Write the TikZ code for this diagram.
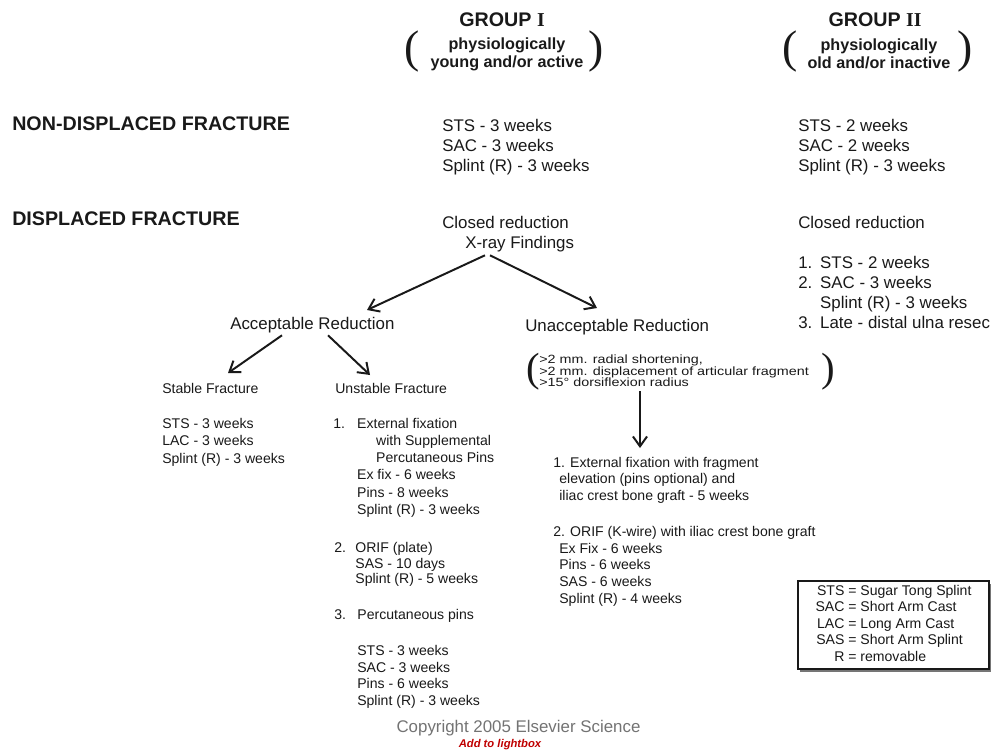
\documentclass[tikz,border=0pt]{standalone}
\usepackage{fontspec}
\setmainfont{Liberation Sans}
\newfontfamily\romanfont{Liberation Serif}
\newfontfamily\widesans[FakeStretch=1.2]{Liberation Sans}
\usepackage{xcolor}
\usepackage{tikz}
\usetikzlibrary{arrows.meta,shadows}
\definecolor{ink}{gray}{0.1}
\tikzset{
txt/.style = {anchor=north west, inner sep=0pt, align=left, text=ink, font=\fontsize{12}{14.2}\selectfont},
smalltxt/.style = {txt, font=\fontsize{10}{#1}\selectfont},
smalltxt/.default = 12.2pt, % line spacing of the lists
rowhead/.style = {txt, font=\fontsize{14}{16}\selectfont\bfseries},
grouphead/.style = {inner sep=0pt, text=ink, font=\fontsize{14}{16}\selectfont\bfseries},
groupsub/.style = {inner sep=0pt, align=center, text=ink, font=\fontsize{11.5}{12.8}\selectfont\bfseries},
paren/.style = {inner sep=0pt, text=ink, font=\fontsize{#1}{#1}\selectfont\romanfont},
paren/.default = 32.5,
arr/.style = {-{Straight Barb[length=7pt,width=10pt]}, line width=1.4pt, draw=ink},
keybox/.style = {draw=ink, line width=1pt, fill=white, minimum width=136pt, minimum height=62.6pt, inner sep=0pt, text=ink, font=\fontsize{10}{11.7}\selectfont, drop shadow={shadow xshift=1.5pt, shadow yshift=-2pt, fill=ink, opacity=0.6}},
}
\newcommand{\listnum}[2]{\makebox[#1][l]{#2}}

\begin{document}
\begin{tikzpicture}[x=0.025cm, y=-0.025cm]
  \useasboundingbox (0,0) rectangle (996,752);

  % Groups
    \node[grouphead] (grpOne) at (502,20) {GROUP {\romanfont I}};
    \node[grouphead] (grpTwo) at (875,20) {GROUP {\romanfont II}};
    \node[groupsub] (subOne) at (507,54) {physiologically\\young and/or active};
    \node[groupsub] (subTwo) at (879,54) {physiologically\\old and/or inactive};
    \node[paren] (subOneL) at (412,52) {(};
    \node[paren] (subOneR) at (596,52) {)};
    \node[paren] (subTwoL) at (790,52) {(};
    \node[paren] (subTwoR) at (965,52) {)};

  % Rows
    \node[rowhead] (nonDisp) at (12,116) {NON-DISPLACED FRACTURE};
    \node[rowhead] (disp) at (12,211) {DISPLACED FRACTURE};

  % Non-displaced
    \node[txt] (ndOne) at (442,119) {STS - 3 weeks\\SAC - 3 weeks\\Splint (R) - 3 weeks};
    \node[txt] (ndTwo) at (798,119) {STS - 2 weeks\\SAC - 2 weeks\\Splint (R) - 3 weeks};

  % Displaced, group II
    \node[txt] (closedTwo) at (798,216) {Closed reduction};
    \node[txt] (listTwo) at (798,256) {\listnum{15.6pt}{1.}STS - 2 weeks\\\listnum{15.6pt}{2.}SAC - 3 weeks\\\hspace*{15.6pt}Splint (R) - 3 weeks\\\listnum{15.6pt}{3.}Late - distal ulna resec};

  % Displaced, group I
    \node[txt] (closed) at (442,216) {Closed reduction};
    \node[txt] (xray) at (465,236) {X-ray Findings};
    \node[txt] (acc) at (230,317) {Acceptable Reduction};
    \node[txt] (unacc) at (525,319) {Unacceptable Reduction};

    \node[smalltxt] (stable) at (162,383) {Stable Fracture};
    \node[smalltxt=12.4pt] (stableList) at (162,418) {STS - 3 weeks\\LAC - 3 weeks\\Splint (R) - 3 weeks};

    \node[smalltxt] (unstable) at (335,383) {Unstable Fracture};
    \node[smalltxt] (unstOne) at (333,418) {\listnum{17pt}{1.}External fixation\\\hspace*{30.5pt}with Supplemental\\\hspace*{30.5pt}Percutaneous Pins\\\hspace*{17pt}Ex fix - 6 weeks\\\hspace*{17pt}Pins - 8 weeks\\\hspace*{17pt}Splint (R) - 3 weeks};
    \node[smalltxt=11.2pt] (unstTwo) at (334,542) {\listnum{15pt}{2.}ORIF (plate)\\\hspace*{15pt}SAS - 10 days\\\hspace*{15pt}Splint (R) - 5 weeks};
    \node[smalltxt] (unstThree) at (334,609) {\listnum{16.5pt}{3.}Percutaneous pins};
    \node[smalltxt=11.9pt] (unstThreeList) at (357,645) {STS - 3 weeks\\SAC - 3 weeks\\Pins - 6 weeks\\Splint (R) - 3 weeks};

    \node[txt, font=\fontsize{8.5}{8.1}\selectfont\widesans] (crit) at (539,355) {>2 mm. radial shortening,\\>2 mm. displacement of articular fragment\\>15° dorsiflexion radius};
    \node[paren=29] (critL) at (533,371.5) {(};
    \node[paren=29] (critR) at (828,371.5) {)};

    \node[smalltxt=11.7pt] (ext) at (553,457) {1. External fixation with fragment\\\hspace*{4.3pt}elevation (pins optional) and\\\hspace*{4.3pt}iliac crest bone graft - 5 weeks};
    \node[smalltxt=11.9pt] (orif) at (553,526) {2. ORIF (K-wire) with iliac crest bone graft\\\hspace*{4.3pt}Ex Fix - 6 weeks\\\hspace*{4.3pt}Pins - 6 weeks\\\hspace*{4.3pt}SAS - 6 weeks\\\hspace*{4.3pt}Splint (R) - 4 weeks};

  % Key
    \node[keybox] (key) at (893.5,625) {\begin{tabular}{@{}r@{ = }l@{}}STS & Sugar Tong Splint\\SAC & Short Arm Cast\\LAC & Long Arm Cast\\SAS & Short Arm Splint\\R & removable\end{tabular}};

  % Footer
    \node[text=black!55, font=\fontsize{12}{14}\selectfont] (copy) at (518.5,728) {Copyright 2005 Elsevier Science};
    \node[text=red!75!black, font=\fontsize{8}{9}\selectfont\bfseries\itshape] (lightbox) at (500,745) {Add to lightbox};

  % Arrows
    \draw[arr] ([shift={(20,3)}]xray.south west) -- ([shift={(137,-7)}]acc.north west);
    \draw[arr] ([shift={(25,3)}]xray.south west) -- ([shift={(72,-11)}]unacc.north west);
    \draw[arr] ([shift={(52,2)}]acc.south west) -- ([shift={(66,-10)}]stable.north west);
    \draw[arr] ([shift={(98,2)}]acc.south west) -- ([shift={(35,-8)}]unstable.north west);
    \draw[arr] ([shift={(101,4)}]crit.south west) -- ([shift={(87,-9)}]ext.north west);
\end{tikzpicture}
\end{document}
